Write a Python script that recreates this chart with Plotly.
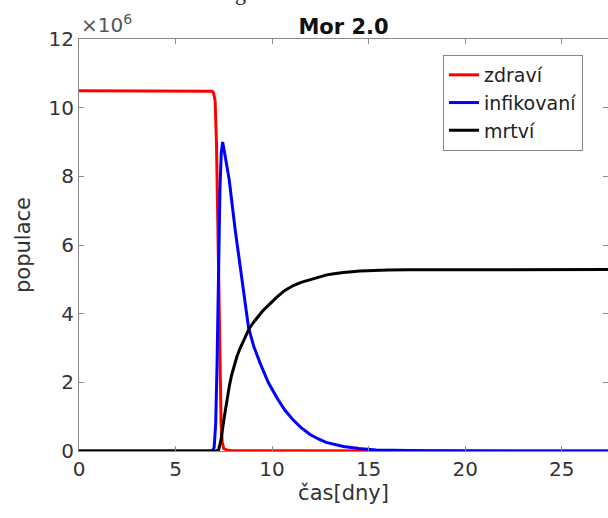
import plotly.graph_objects as go

# time [days] and populations [millions]
t_zdravi = [0, 6.8, 6.9, 6.97, 7.05, 7.12, 7.18, 7.24, 7.30, 7.36, 7.42, 7.5, 7.7, 8.0, 30]
v_zdravi = [10.49, 10.49, 10.48, 10.43, 10.2, 9.0, 7.0, 4.5, 2.2, 0.8, 0.25, 0.07, 0.02, 0.01, 0.0]

t_infik = [0, 6.9, 7.0, 7.08, 7.15, 7.22, 7.3, 7.37, 7.44, 7.52, 7.78, 8.09, 8.44,
           8.78, 9.05, 9.38, 9.8, 10.25, 10.65, 11.1, 11.5, 11.97, 12.4, 12.8,
           13.7, 14.5, 15.4, 16.5, 18, 30]
v_infik = [0, 0, 0.1, 0.8, 2.5, 5.0, 7.6, 8.7, 9.0, 8.75, 7.9, 6.44, 5.0,
           3.6, 3.05, 2.56, 2.0, 1.55, 1.2, 0.9, 0.68, 0.48, 0.35, 0.25,
           0.13, 0.07, 0.03, 0.015, 0.005, 0]

t_mrtvi = [0, 7.1, 7.23, 7.35, 7.5, 7.66, 7.78, 7.9, 8.04, 8.18, 8.35, 8.5, 8.8, 9.0,
           9.3, 9.5, 9.73, 10.0, 10.25, 10.64, 11.1, 11.5, 12.0, 12.4, 12.83, 13.2,
           13.7, 14.55, 15.3, 16, 17.1, 20, 30]
v_mrtvi = [0, 0, 0.03, 0.3, 0.9, 1.49, 1.87, 2.2, 2.5, 2.75, 3.0, 3.2, 3.55, 3.72,
           3.95, 4.07, 4.2, 4.35, 4.48, 4.67, 4.82, 4.91, 5.0, 5.07, 5.13, 5.16,
           5.2, 5.24, 5.26, 5.27, 5.28, 5.285, 5.285]

y_ticks = [0, 2, 4, 6, 8, 10, 12]
x_ticks = [0, 5, 10, 15, 20, 25]

FONT = "DejaVu Sans"
AX = "#8a8a8a"
TXT = "#333333"

fig = go.Figure()
fig.add_trace(go.Scatter(x=t_zdravi, y=v_zdravi, mode="lines", name="zdraví",
                         line=dict(color="#ff0000", width=3)))
fig.add_trace(go.Scatter(x=t_infik, y=v_infik, mode="lines", name="infikovaní",
                         line=dict(color="#0000ff", width=3)))
fig.add_trace(go.Scatter(x=t_mrtvi, y=v_mrtvi, mode="lines", name="mrtví",
                         line=dict(color="#000000", width=3)))
fig.add_trace(go.Scatter(x=[0], y=[0], yaxis="y2", mode="lines", showlegend=False,
                         hoverinfo="skip", line=dict(color="rgba(0,0,0,0)", width=0)))

fig.update_layout(
    width=608, height=518,
    margin=dict(l=79, r=0, t=39, b=67),
    paper_bgcolor="white", plot_bgcolor="white",
    font=dict(family=FONT, size=20, color=TXT),
    title=dict(text="<b>Mor 2.0</b>", x=0.5, xref="paper", xanchor="center",
               y=1 - 27 / 518, yanchor="middle",
               font=dict(family=FONT, size=21, color="#111111")),
    xaxis=dict(range=[0, 27.4], tickvals=x_ticks, ticks="inside", ticklen=5,
               tickcolor=AX, showline=True, linecolor=AX, linewidth=1,
               mirror="ticks", showgrid=False, zeroline=False,
               tickfont=dict(family=FONT, size=20, color=TXT),
               title=dict(text="čas[dny]", font=dict(family=FONT, size=21, color=TXT),
                          standoff=5)),
    yaxis=dict(range=[0, 12], tickvals=y_ticks, ticks="inside", ticklen=5,
               tickcolor=AX, showline=True, linecolor=AX, linewidth=1,
               mirror=False, showgrid=False, zeroline=False,
               tickfont=dict(family=FONT, size=20, color=TXT),
               title=dict(text="populace", font=dict(family=FONT, size=21, color=TXT),
                          standoff=12)),
    yaxis2=dict(range=[0, 12], tickvals=y_ticks, overlaying="y", side="right",
                ticks="inside", ticklen=5, tickcolor=AX, showline=False,
                showticklabels=False, showgrid=False, zeroline=False),
    legend=dict(x=(443 - 79) / 529, y=1 - (55 - 39) / 412, xanchor="left", yanchor="top",
                bgcolor="white", bordercolor="#888888", borderwidth=1,
                font=dict(family=FONT, size=19, color="#222222"),
                tracegroupgap=0, itemwidth=30),
    showlegend=True,
)

fig.add_annotation(text="×10<sup>6</sup>", xref="paper", yref="paper",
                   x=0, y=1, xanchor="left", yanchor="bottom", showarrow=False,
                   font=dict(family=FONT, size=20, color="#555555"))
fig.add_annotation(text="g", xref="paper", yref="paper",
                   x=(240 - 79) / 529, y=1 + (39 - 7) / 412, xanchor="center",
                   yanchor="bottom", showarrow=False,
                   font=dict(family="Liberation Serif", size=22, color="#222222"))

fig.write_html("out.html", config={"displayModeBar": False},
               post_script="document.body.style.margin='0px';")
